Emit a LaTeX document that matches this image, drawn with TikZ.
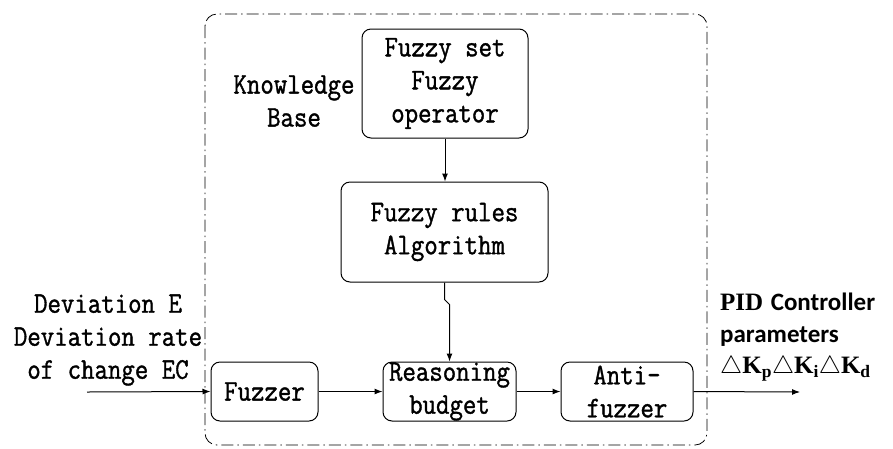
\documentclass[tikz,border=0pt]{standalone}
\usepackage{fontspec}
\usetikzlibrary{arrows.meta,calc}
\newfontfamily\pidserif{Liberation Serif}
\newfontfamily\pidsans{Carlito}
\newfontfamily\dmono[FakeStretch=0.87,FakeBold=1.2]{Latin Modern Mono}
\begin{document}
\begin{tikzpicture}[x=1pt,y=-1pt,
  blk/.style={draw,line width=1pt,rounded corners=9pt,inner sep=0pt,align=center,
    font=\dmono\fontsize{30}{33}\selectfont},
  lbl/.style={inner sep=0pt,align=center,font=\dmono\fontsize{30}{33}\selectfont},
  arr/.style={line width=1pt,-{Latex[length=8pt,width=6pt]}},
  kbframe/.style={line width=0.8pt,rounded corners=12pt,dash pattern=on 12pt off 4pt on 1.5pt off 4pt}]
\useasboundingbox (0,0) rectangle (893,448);
\draw[kbframe] (205,14) rectangle (707,445);
\node[blk,minimum width=166pt,minimum height=109pt] (fset) at (445,83.5) {Fuzzy set\\Fuzzy\\operator};
\node[blk,minimum width=207pt,minimum height=100pt] (rules) at (444.5,232) {Fuzzy rules\\Algorithm};
\node[blk,minimum width=133pt,minimum height=59pt] (reason) at (449.5,391.5) {Reasoning\\budget};
\node[blk,minimum width=107pt,minimum height=59pt] (fuzzer) at (264.5,391.5) {Fuzzer};
\node[blk,minimum width=132pt,minimum height=59pt] (anti) at (627,391.5) {Anti-\\fuzzer};
\node[lbl] (kb) at (294,101) {Knowledge\\Base};
\node[lbl] (inp) at (108,340) {Deviation E\\Deviation rate\\of change EC};
\node[inner sep=0pt,anchor=north west,align=left,font=\fontsize{25}{31.5}\selectfont] (out) at (720,293)
  {{\pidserif\bfseries PID} {\pidsans\bfseries Controller}\\
   {\pidsans\bfseries parameters}\\
   {\pidserif\bfseries $\bigtriangleup$K\textsubscript{p}$\bigtriangleup$K\textsubscript{i}$\bigtriangleup$K\textsubscript{d}}};
\coordinate (in0) at (87,392);
\coordinate (out0) at (800,392);
\draw[arr] (in0) -- (fuzzer.west);
\draw[arr] (fuzzer.east) -- (reason.west);
\draw[arr] (reason.east) -- (anti.west);
\draw[arr] (anti.east) -- (out0);
\draw[arr] (fset.south) -- (fset.south |- rules.north);
\draw[arr] (rules.south) -- ++(0,17) -- ($(reason.north)+(0,-57)$) -- (reason.north);
\end{tikzpicture}
\end{document}
